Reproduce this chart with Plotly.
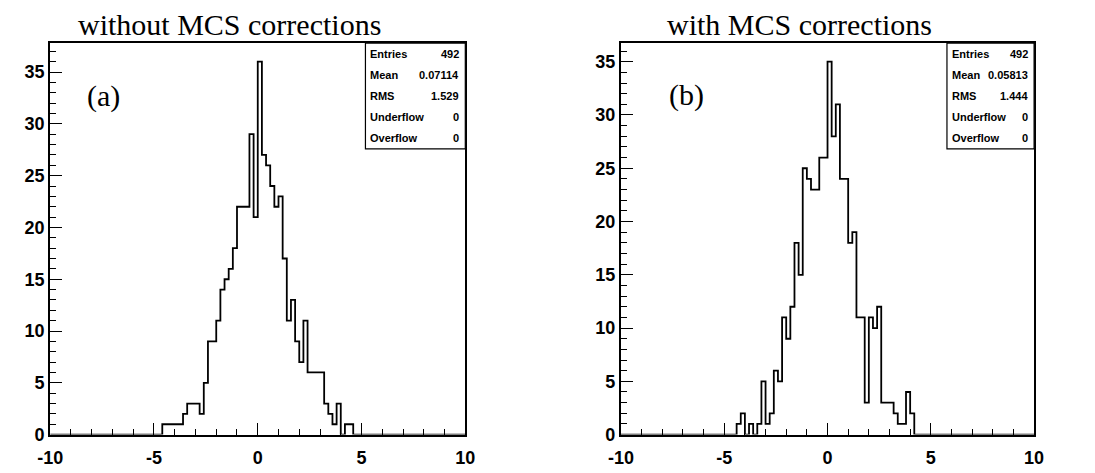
import numpy as np
import plotly.graph_objects as go

# ---------------- data ----------------
x_min, x_max, n_bins = -10.0, 10.0, 100

# (a) without MCS corrections: counts per 0.2-wide bin, first bin starts at -4.6
first_edge_a = -4.6
counts_a = [1, 1, 1, 1, 1, 2, 3, 3, 3, 2, 5, 9, 9, 11, 14, 15, 16, 18, 22, 22, 22, 29,
            21, 36, 27, 26, 24, 22, 23, 17, 11, 13, 9, 7, 11, 6, 6, 6, 6, 3, 2, 1, 3, 0, 1, 1]

# (b) with MCS corrections: first bin starts at -4.4
first_edge_b = -4.4
counts_b = [1, 2, 0, 1, 0, 1, 5, 1, 2, 6, 5, 11, 9, 12, 18, 15, 25, 24, 23, 23, 26, 26,
            35, 28, 31, 24, 24, 18, 19, 11, 11, 3, 11, 10, 12, 3, 3, 3, 2, 1, 1, 4, 2]

titles = ["without MCS corrections", "with MCS corrections"]
panel_labels = ["(a)", "(b)"]
stats_a = [("Entries", "492"), ("Mean", "0.07114"), ("RMS", "1.529"),
           ("Underflow", "0"), ("Overflow", "0")]
stats_b = [("Entries", "492"), ("Mean", "0.05813"), ("RMS", "1.444"),
           ("Underflow", "0"), ("Overflow", "0")]

x_ticks = [-10, -5, 0, 5, 10]
y_ticks = [0, 5, 10, 15, 20, 25, 30, 35]

# ---------------- helpers ----------------
W, H = 1095, 473
edges = np.linspace(x_min, x_max, n_bins + 1)
bw = (x_max - x_min) / n_bins


def full_counts(first_edge, counts):
    arr = np.zeros(n_bins)
    i0 = int(round((first_edge - x_min) / bw))
    arr[i0:i0 + len(counts)] = counts
    return arr


def px_x(p):
    return p / W


def px_y(p):
    return 1 - p / H


# frames in pixels (left, right, top, bottom)
frames = [(38, 462, 44, 444), (621, 1043, 44, 444)]
title_left = [64, 666]
label_pos = [(74, 98), (668, 97)]
stats_boxes = [(360, 462, 44, 152), (954, 1043, 44, 152)]

fig = go.Figure()
annotations = []
shapes = []

for k, (first_edge, counts, stats) in enumerate(
        [(first_edge_a, counts_a, stats_a), (first_edge_b, counts_b, stats_b)]):
    c = full_counts(first_edge, counts)
    ymax = 1.05 * c.max()
    xs = edges
    ys = np.append(c, c[-1])
    xa = "x" if k == 0 else "x2"
    ya = "y" if k == 0 else "y2"
    fig.add_trace(go.Scatter(x=xs, y=ys, mode="lines", line_shape="hv",
                             line=dict(color="black", width=1.8),
                             xaxis=xa, yaxis=ya, showlegend=False, hoverinfo="skip"))
    l, r, t, b = frames[k]
    axis_common = dict(showline=True, mirror=True, linecolor="black", linewidth=2,
                       ticks="inside", ticklen=12, tickwidth=1.3, tickcolor="black",
                       showgrid=False, zeroline=False,
                       tickfont=dict(family="Liberation Sans", size=18, color="black",
                                     weight="bold"))
    xaxis = dict(axis_common, domain=[px_x(l), px_x(r)], range=[x_min, x_max],
                 tickvals=x_ticks, ticktext=[str(v) for v in x_ticks],
                 ticklabelstandoff=6,
                 minor=dict(ticks="inside", ticklen=6, dtick=1, tick0=0,
                            tickcolor="black", tickwidth=1.3),
                 anchor=ya)
    yaxis = dict(axis_common, domain=[px_y(b), px_y(t)], range=[0, ymax],
                 tickvals=y_ticks, ticktext=[str(v) for v in y_ticks],
                 minor=dict(ticks="inside", ticklen=6, dtick=1, tick0=0,
                            tickcolor="black", tickwidth=1.3),
                 anchor=xa)
    if k == 0:
        fig.update_layout(xaxis=xaxis, yaxis=yaxis)
    else:
        fig.update_layout(xaxis2=xaxis, yaxis2=yaxis)

    # title
    annotations.append(dict(x=px_x(title_left[k]), y=px_y(25), xref="paper", yref="paper",
                            text=titles[k], showarrow=False, xanchor="left",
                            yanchor="middle",
                            font=dict(family="Liberation Serif", size=30, color="black")))
    # panel label
    lx, ly = label_pos[k]
    annotations.append(dict(x=px_x(lx), y=px_y(ly), xref="paper", yref="paper",
                            text=panel_labels[k], showarrow=False, xanchor="left",
                            yanchor="middle",
                            font=dict(family="Liberation Serif", size=30, color="black")))
    # stats box
    sl, sr, st, sb = stats_boxes[k]
    shapes.append(dict(type="rect", xref="paper", yref="paper",
                       x0=px_x(sl), x1=px_x(sr), y0=px_y(sb), y1=px_y(st),
                       line=dict(color="black", width=1.2), fillcolor="white",
                       layer="above"))
    row_h = (sb - st) / len(stats)
    for i, (name, val) in enumerate(stats):
        yc = st + row_h * (i + 0.5)
        annotations.append(dict(x=px_x(sl + 3), y=px_y(yc), xref="paper", yref="paper",
                                text=name, showarrow=False, xanchor="left",
                                yanchor="middle",
                                font=dict(family="Liberation Sans", size=11,
                                          color="black", weight="bold")))
        annotations.append(dict(x=px_x(sr - 4), y=px_y(yc), xref="paper", yref="paper",
                                text=val, showarrow=False, xanchor="right",
                                yanchor="middle",
                                font=dict(family="Liberation Sans", size=11,
                                          color="black", weight="bold")))

fig.update_layout(width=W, height=H, margin=dict(l=0, r=0, t=0, b=0),
                  paper_bgcolor="white", plot_bgcolor="white",
                  annotations=annotations, shapes=shapes, showlegend=False)

fig.write_html("out.html")
